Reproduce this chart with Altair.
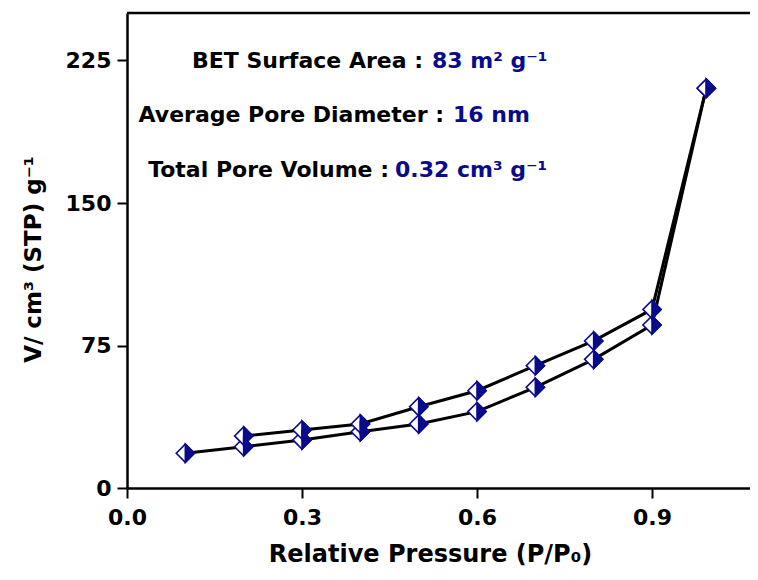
import altair as alt
import pandas as pd

# ---- data ----
p_ads = [0.1, 0.2, 0.3, 0.4, 0.5, 0.6, 0.7, 0.8, 0.9, 0.993]
v_ads = [18.3, 21.7, 25.3, 29.6, 33.7, 40.2, 53.0, 67.7, 85.8, 210.4]
p_des = [0.993, 0.9, 0.8, 0.7, 0.6, 0.5, 0.4, 0.3, 0.2]
v_des = [210.4, 94.0, 77.4, 64.4, 51.2, 42.8, 33.7, 30.5, 27.4]

x_ticks = [0.0, 0.3, 0.6, 0.9]
y_ticks = [0, 75, 150, 225]

ann_labels = ["BET Surface Area :", "Average Pore Diameter :", "Total Pore Volume :"]
ann_values = ["83 m² g⁻¹", "16 nm", "0.32 cm³ g⁻¹"]

NAVY = "#0A0A8C"
FONT = "DejaVu Sans"
W, H = 623, 475
XMAX = 1.068

df = pd.concat([
    pd.DataFrame({"p": p_ads, "v": v_ads, "branch": "Adsorption", "i": range(len(p_ads))}),
    pd.DataFrame({"p": p_des, "v": v_des, "branch": "Desorption", "i": range(len(p_des))}),
], ignore_index=True)

xs = alt.Scale(domain=[0, XMAX], nice=False, zero=False)
ys = alt.Scale(domain=[0, 250], nice=False)

x_enc = alt.X("p:Q", scale=xs, axis=alt.Axis(
    values=x_ticks, format=".1f", title="Relative Pressure (P/P₀)",
    grid=False, domainColor="black", domainWidth=2.5, tickColor="black",
    tickWidth=2, tickSize=10, labelPadding=9, labelFont=FONT, labelFontSize=22,
    labelFontWeight="bold", labelColor="black", titleFont=FONT, titleFontSize=24,
    titleFontWeight="bold", titleColor="black", titleX=303, titleY=73,
    titleBaseline="alphabetic", titleAlign="center", labelFlush=False))
y_enc = alt.Y("v:Q", scale=ys, axis=alt.Axis(
    values=y_ticks, format="d", title="V/ cm³ (STP) g⁻¹",
    grid=False, domainColor="black", domainWidth=2.5, tickColor="black",
    tickWidth=2, tickSize=10, labelPadding=6, labelFont=FONT, labelFontSize=22,
    labelFontWeight="bold", labelColor="black", titleFont=FONT, titleFontSize=23,
    titleFontWeight="bold", titleColor="black", titleX=-87, titleY=246,
    titleAngle=-90, titleBaseline="alphabetic", titleAlign="center", labelFlush=False))

base = alt.Chart(df)

lines = base.mark_line(color="black", strokeWidth=3).encode(
    x=x_enc, y=y_enc, detail="branch:N", order="i:Q")

diamond = "M0,-1L1,0L0,1L-1,0Z"
half = "M0,-1L1,0L0,1Z"
pts_bg = base.mark_point(shape=diamond, filled=True, fill="white", stroke=NAVY,
                         strokeWidth=1.6, size=330, opacity=1).encode(x="p:Q", y="v:Q")
pts_half = base.mark_point(shape=half, filled=True, fill=NAVY, stroke=NAVY,
                           strokeWidth=1.6, size=330, opacity=1).encode(x="p:Q", y="v:Q")

frame = alt.Chart(pd.DataFrame({"a": [0]})).mark_rule(color="black", strokeWidth=2.5).encode(
    x=alt.value(0), x2=alt.value(W), y=alt.value(0))

label_right = [296, 317, 262]
value_left = [305, 326, 268]
baselines = [55, 109, 164]

texts = []
for lab, val, xr, xl, yb in zip(ann_labels, ann_values, label_right, value_left, baselines):
    d = pd.DataFrame({"lab": [lab], "val": [val]})
    texts.append(alt.Chart(d).mark_text(align="right", baseline="alphabetic", font=FONT,
                                        fontWeight="bold", fontSize=22, color="black").encode(
        x=alt.value(xr), y=alt.value(yb), text="lab:N"))
    texts.append(alt.Chart(d).mark_text(align="left", baseline="alphabetic", font=FONT,
                                        fontWeight="bold", fontSize=22, color=NAVY).encode(
        x=alt.value(xl), y=alt.value(yb), text="val:N"))

chart = alt.layer(lines, pts_bg, pts_half, frame, *texts).properties(
    width=W, height=H,
    autosize=alt.AutoSizeParams(type="none"),
    padding={"left": 119, "top": 5, "right": 0, "bottom": 82},
    background="white",
).configure_view(stroke=None)

chart.save("out.html", embed_options={"renderer": "svg", "actions": False})
